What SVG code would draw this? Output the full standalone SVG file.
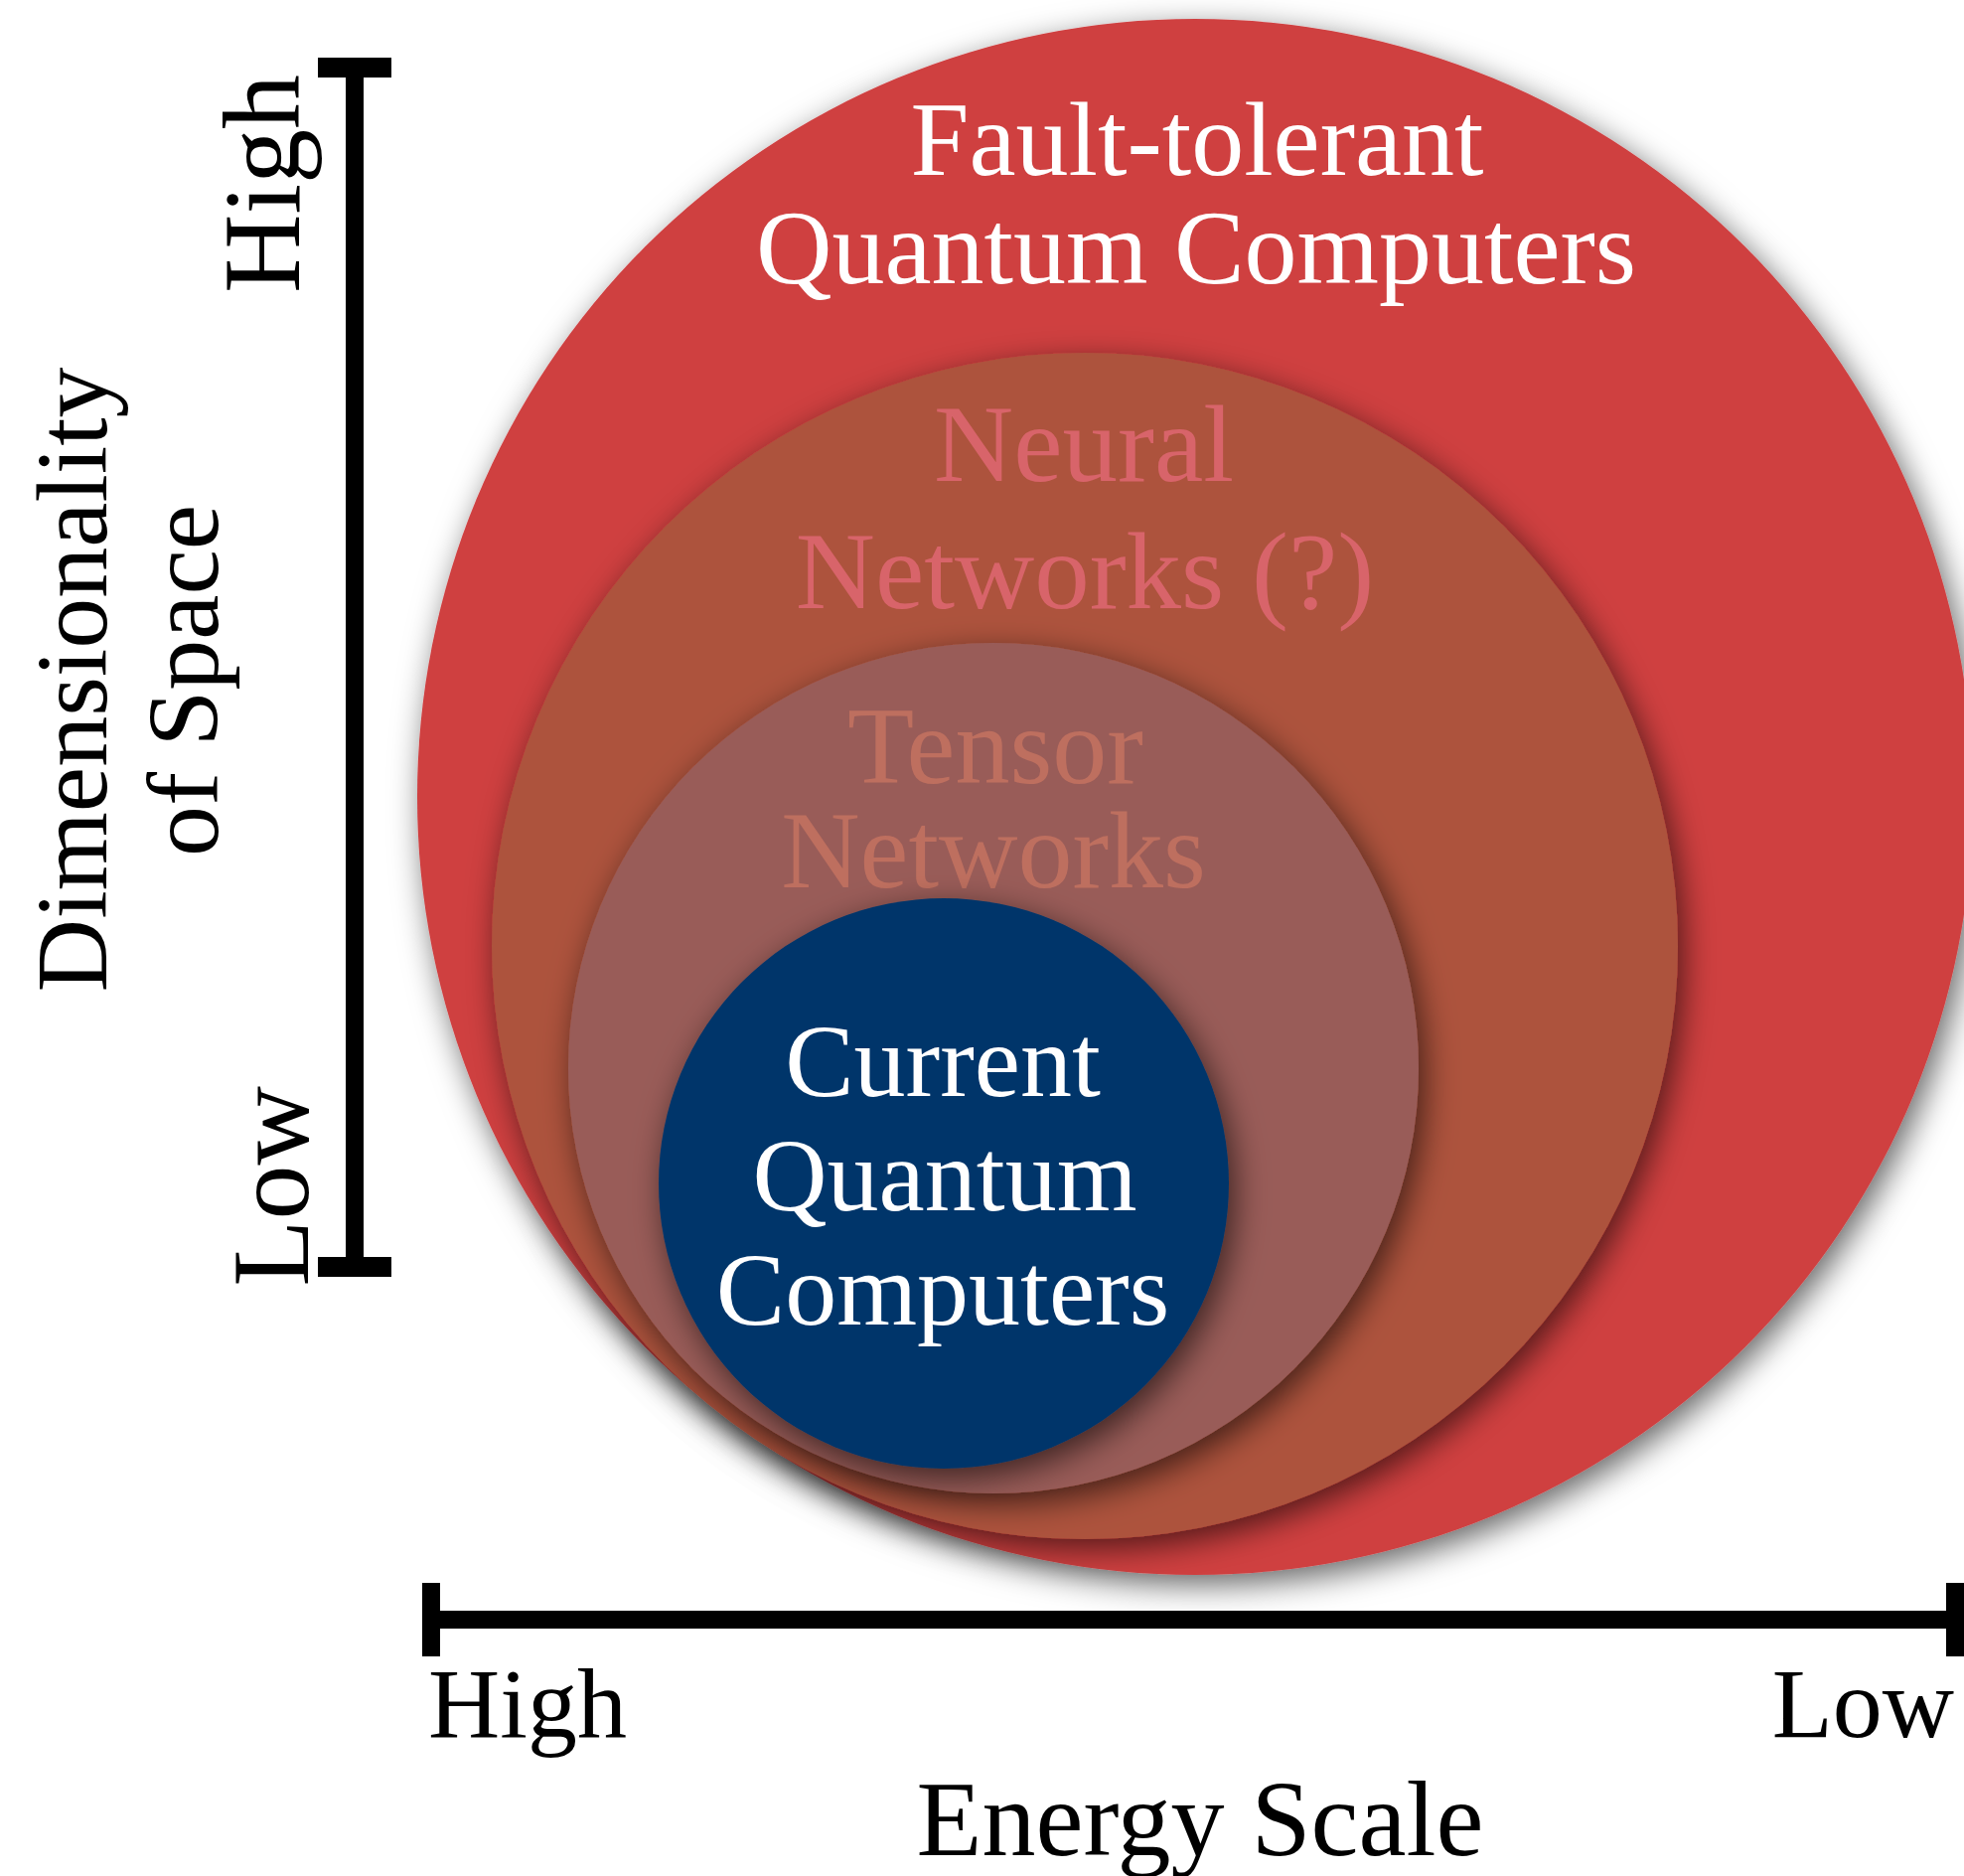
<svg xmlns="http://www.w3.org/2000/svg" width="1977" height="1888" viewBox="0 0 1977 1888">
<defs>
<filter id="sh" x="-20%" y="-20%" width="140%" height="140%">
<feDropShadow dx="6" dy="10" stdDeviation="16" flood-color="#000" flood-opacity="0.6"/>
</filter>
<style>
text{font-family:"Liberation Serif","Times New Roman",serif;}
.ax{fill:#000;}
.w{fill:#fff;}
</style>
</defs>
<rect width="1977" height="1888" fill="#fff"/>
<g id="red"><circle cx="1203" cy="802" r="783" fill="#CF3F41" filter="url(#sh)"/>
<text class="w" x="1205" y="176" font-size="106" text-anchor="middle">Fault-tolerant</text>
<text class="w" x="1204" y="285" font-size="106" text-anchor="middle">Quantum Computers</text></g>
<g id="brown"><circle cx="1092" cy="952" r="597" fill="#AD523D" filter="url(#sh)"/>
<text x="1091" y="484" font-size="111" text-anchor="middle" fill="#D8646A">Neural</text>
<text x="1092" y="612" font-size="111" text-anchor="middle" fill="#D8646A">Networks (?)</text></g>
<g id="mauve"><circle cx="1000" cy="1075" r="428" fill="#995C58" filter="url(#sh)"/>
<text x="1002" y="788" font-size="110" text-anchor="middle" fill="#BE6F5F">Tensor</text>
<text x="1000" y="893" font-size="110" text-anchor="middle" fill="#BE6F5F">Networks</text></g>
<g id="blue"><circle cx="950" cy="1191" r="287" fill="#03366A" filter="url(#sh)"/>
<text class="w" x="949" y="1103" font-size="104" text-anchor="middle">Current</text>
<text class="w" x="951" y="1218" font-size="104" text-anchor="middle">Quantum</text>
<text class="w" x="949" y="1333" font-size="104" text-anchor="middle">Computers</text></g>
<g id="yaxis">
<rect class="ax" x="348" y="68" width="18" height="1207"/>
<rect class="ax" x="320" y="58" width="74" height="20"/>
<rect class="ax" x="320" y="1265" width="74" height="20"/>
<text x="0" y="0" font-size="110" text-anchor="middle" transform="translate(301,185) rotate(-90)">High</text>
<text x="0" y="0" font-size="110" text-anchor="middle" transform="translate(310,1194) rotate(-90)">Low</text>
<text x="0" y="0" font-size="102" text-anchor="middle" transform="translate(107,684) rotate(-90)">Dimensionality</text>
<text x="0" y="0" font-size="102" text-anchor="middle" transform="translate(219,685) rotate(-90)">of Space</text>
</g>
<g id="xaxis">
<rect class="ax" x="434" y="1621" width="1534" height="18"/>
<rect class="ax" x="425" y="1593" width="18" height="74"/>
<rect class="ax" x="1959" y="1593" width="18" height="74"/>
<text x="431" y="1748" font-size="100">High</text>
<text x="1967" y="1748" font-size="100" text-anchor="end">Low</text>
<text x="1208" y="1867" font-size="108" text-anchor="middle">Energy Scale</text>
</g>
<g id="connectors"></g>
</svg>
